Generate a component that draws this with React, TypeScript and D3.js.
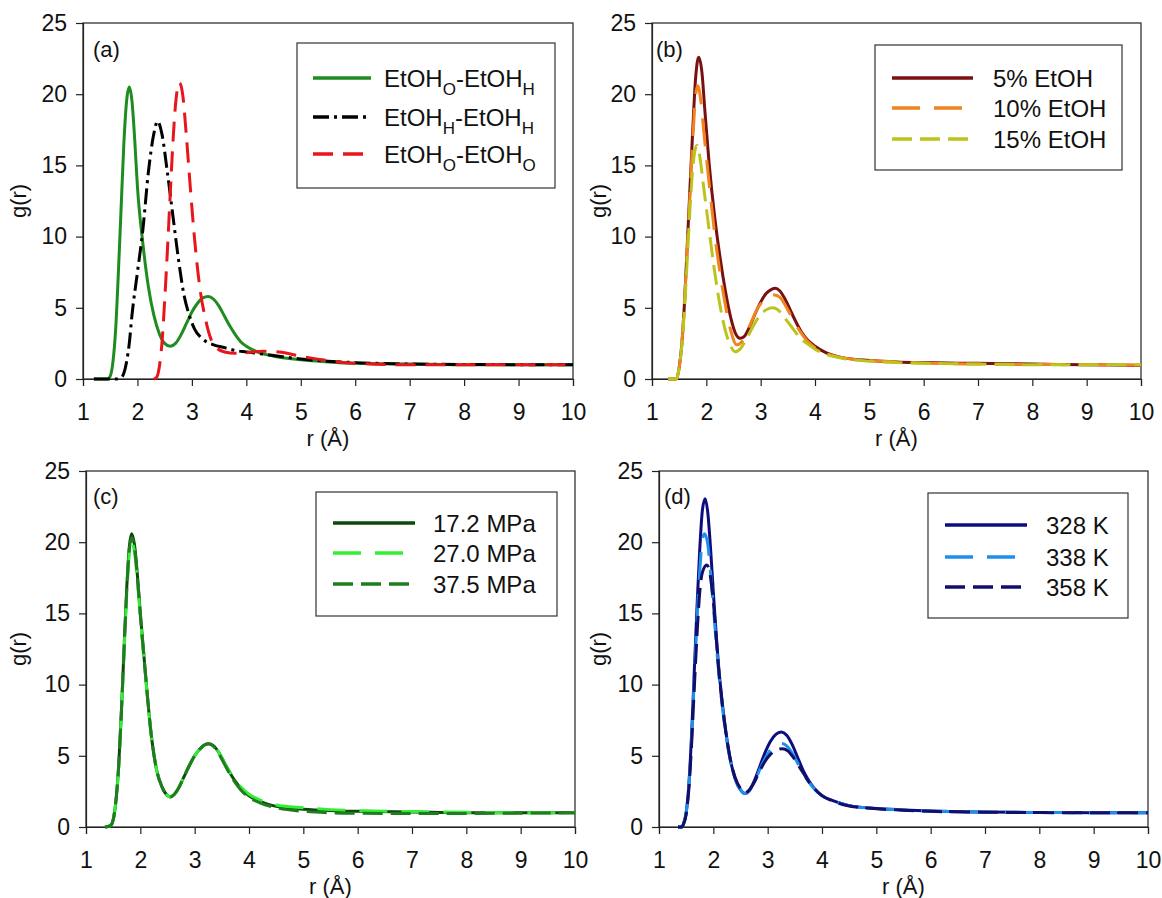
import React, { useEffect, useRef } from 'react';
import * as d3 from 'd3';

const X_TICKS = [1, 2, 3, 4, 5, 6, 7, 8, 9, 10];
const Y_TICKS = [0, 5, 10, 15, 20, 25];

// ---- Panel (a) ----
const A_GREEN_R = [1.2, 1.45, 1.5, 1.55, 1.6, 1.65, 1.7, 1.75, 1.8, 1.85, 1.9, 1.95, 2.0, 2.1, 2.2, 2.3, 2.4, 2.5, 2.6, 2.7, 2.8, 2.9, 3.0, 3.1, 3.2, 3.3, 3.4, 3.5, 3.6, 3.7, 3.8, 3.9, 4.0, 4.2, 4.5, 5.0, 5.5, 6.0, 7.0, 8.0, 10.0];
const A_GREEN_G = [0, 0, 0.2, 1.2, 3.5, 7.5, 12, 16.5, 19.5, 20.5, 19.5, 16.8, 13.5, 9.5, 6.5, 4.5, 3.2, 2.5, 2.3, 2.5, 3.1, 3.9, 4.7, 5.3, 5.7, 5.8, 5.6, 5.1, 4.4, 3.7, 3.1, 2.6, 2.3, 1.9, 1.6, 1.35, 1.2, 1.1, 1.05, 1.0, 1.0];
const A_BLACK_R = [1.2, 1.6, 1.7, 1.75, 1.8, 1.85, 1.9, 2.0, 2.1, 2.2, 2.3, 2.37, 2.45, 2.55, 2.65, 2.75, 2.85, 2.95, 3.05, 3.2, 3.4, 3.6, 3.8, 4.0, 4.5, 5.0, 5.5, 6.0, 7.0, 8.0, 10.0];
const A_BLACK_G = [0, 0, 0.1, 0.4, 1.2, 2.5, 4.5, 7.5, 10.5, 14.5, 17.2, 18.1, 17.2, 14.5, 11.5, 8.5, 6.0, 4.5, 3.5, 2.8, 2.4, 2.2, 2.0, 1.9, 1.65, 1.4, 1.25, 1.15, 1.05, 1.02, 1.0];
const A_RED_R = [2.3, 2.35, 2.4, 2.45, 2.5, 2.55, 2.6, 2.65, 2.7, 2.77, 2.83, 2.9, 2.97, 3.05, 3.15, 3.25, 3.35, 3.45, 3.6, 3.8, 4.0, 4.3, 4.6, 5.0, 5.5, 6.0, 7.0, 10.0];
const A_RED_G = [0, 0.1, 0.8, 2.5, 5.5, 9.0, 12.8, 16.5, 19.3, 20.8, 20.0, 17.0, 13.5, 9.8, 6.3, 4.2, 2.8, 2.2, 1.9, 1.8, 1.85, 1.95, 1.9, 1.6, 1.3, 1.1, 1.0, 1.0];

// ---- Panel (b) ----
const B_5_R = [1.3, 1.45, 1.5, 1.55, 1.6, 1.65, 1.7, 1.75, 1.8, 1.86, 1.92, 1.97, 2.05, 2.15, 2.25, 2.35, 2.45, 2.55, 2.62, 2.7, 2.8, 2.9, 3.0, 3.1, 3.2, 3.27, 3.35, 3.45, 3.55, 3.65, 3.75, 3.85, 4.0, 4.2, 4.5, 5.0, 5.5, 6.0, 7.0, 8.0, 9.0, 10.0];
const B_5_G = [0, 0, 0.8, 2.5, 5.5, 9.5, 13.5, 17.5, 21.0, 22.6, 21.5, 19.0, 15.2, 11.5, 8.6, 6.2, 4.3, 3.1, 2.86, 3.0, 3.7, 4.6, 5.4, 6.0, 6.3, 6.37, 6.2, 5.6, 4.8, 4.0, 3.3, 2.8, 2.3, 1.85, 1.5, 1.3, 1.2, 1.15, 1.1, 1.05, 1.0, 0.95];
const B_10_R = [1.3, 1.45, 1.5, 1.55, 1.6, 1.65, 1.7, 1.75, 1.8, 1.84, 1.9, 1.95, 2.05, 2.15, 2.25, 2.35, 2.45, 2.56, 2.65, 2.75, 2.85, 2.95, 3.05, 3.15, 3.25, 3.35, 3.45, 3.55, 3.65, 3.75, 3.85, 4.0, 4.2, 4.5, 5.0, 5.5, 6.0, 7.0, 8.0, 9.0, 10.0];
const B_10_G = [0, 0, 0.8, 2.5, 5.5, 9.3, 13.0, 16.8, 19.8, 20.6, 19.5, 17.5, 13.8, 10.3, 7.5, 5.2, 3.4, 2.4, 2.6, 3.3, 4.2, 5.0, 5.5, 5.8, 5.9, 5.75, 5.2, 4.5, 3.8, 3.2, 2.7, 2.2, 1.8, 1.5, 1.3, 1.2, 1.12, 1.05, 1.02, 1.0, 0.98];
const B_15_R = [1.3, 1.45, 1.5, 1.55, 1.6, 1.65, 1.7, 1.75, 1.8, 1.83, 1.88, 1.95, 2.05, 2.15, 2.25, 2.35, 2.45, 2.53, 2.62, 2.72, 2.82, 2.92, 3.02, 3.12, 3.22, 3.32, 3.42, 3.52, 3.62, 3.72, 3.85, 4.0, 4.2, 4.5, 5.0, 5.5, 6.0, 7.0, 8.0, 9.0, 10.0];
const B_15_G = [0, 0, 0.8, 2.4, 5.0, 8.5, 12.0, 14.8, 16.2, 16.4, 15.6, 13.5, 10.5, 7.6, 5.2, 3.4, 2.3, 1.92, 2.1, 2.7, 3.4, 4.1, 4.6, 4.9, 5.0, 4.85, 4.4, 3.9, 3.4, 2.9, 2.5, 2.1, 1.75, 1.45, 1.25, 1.15, 1.1, 1.05, 1.0, 1.0, 1.0];

// ---- Panel (c) ----
const C_172_R = [1.35, 1.45, 1.5, 1.55, 1.6, 1.65, 1.7, 1.75, 1.8, 1.84, 1.9, 1.95, 2.0, 2.1, 2.2, 2.3, 2.4, 2.5, 2.55, 2.6, 2.7, 2.8, 2.9, 3.0, 3.1, 3.2, 3.25, 3.35, 3.45, 3.55, 3.65, 3.75, 3.85, 4.0, 4.2, 4.5, 5.0, 5.5, 6.0, 7.0, 8.0, 9.0, 10.0];
const C_172_G = [0, 0.1, 0.5, 1.8, 4.2, 8.0, 12.5, 16.8, 19.8, 20.6, 19.6, 17.5, 15.0, 10.5, 6.5, 4.0, 2.8, 2.2, 2.1, 2.2, 2.7, 3.5, 4.3, 5.0, 5.5, 5.8, 5.85, 5.7, 5.2, 4.5, 3.8, 3.2, 2.7, 2.2, 1.8, 1.45, 1.25, 1.15, 1.1, 1.05, 1.0, 1.0, 1.0];
const C_270_R = [1.35, 1.45, 1.5, 1.55, 1.6, 1.65, 1.7, 1.75, 1.8, 1.84, 1.9, 1.95, 2.0, 2.1, 2.2, 2.3, 2.4, 2.5, 2.55, 2.6, 2.7, 2.8, 2.9, 3.0, 3.1, 3.2, 3.25, 3.35, 3.45, 3.55, 3.65, 3.75, 3.85, 4.0, 4.2, 4.5, 5.0, 5.5, 6.0, 7.0, 8.0, 9.0, 10.0];
const C_270_G = [0, 0.1, 0.5, 1.8, 4.1, 7.8, 12.2, 16.4, 19.3, 20.0, 19.1, 17.1, 14.7, 10.4, 6.5, 4.0, 2.8, 2.2, 2.1, 2.2, 2.7, 3.5, 4.3, 5.0, 5.5, 5.8, 5.85, 5.7, 5.2, 4.5, 3.85, 3.25, 2.8, 2.3, 1.9, 1.55, 1.35, 1.22, 1.15, 1.08, 1.03, 1.0, 1.0];
const C_375_R = [1.35, 1.45, 1.5, 1.55, 1.6, 1.65, 1.7, 1.75, 1.8, 1.84, 1.9, 1.95, 2.0, 2.1, 2.2, 2.3, 2.4, 2.5, 2.55, 2.6, 2.7, 2.8, 2.9, 3.0, 3.1, 3.2, 3.25, 3.35, 3.45, 3.55, 3.65, 3.75, 3.85, 4.0, 4.2, 4.5, 5.0, 5.5, 6.0, 7.0, 8.0, 9.0, 10.0];
const C_375_G = [0, 0.1, 0.5, 1.8, 4.2, 8.0, 12.4, 16.6, 19.6, 20.3, 19.4, 17.3, 14.9, 10.5, 6.5, 4.0, 2.8, 2.2, 2.1, 2.2, 2.7, 3.5, 4.3, 5.0, 5.5, 5.8, 5.85, 5.65, 5.1, 4.4, 3.7, 3.1, 2.6, 2.1, 1.7, 1.35, 1.1, 1.0, 0.97, 0.95, 0.95, 0.97, 1.0];

// ---- Panel (d) ----
const D_328_R = [1.35, 1.42, 1.45, 1.5, 1.55, 1.6, 1.65, 1.7, 1.75, 1.8, 1.85, 1.9, 1.95, 2.0, 2.1, 2.2, 2.3, 2.4, 2.5, 2.58, 2.65, 2.75, 2.85, 2.95, 3.05, 3.15, 3.25, 3.35, 3.45, 3.55, 3.65, 3.75, 3.85, 4.0, 4.2, 4.5, 5.0, 5.5, 6.0, 7.0, 8.0, 9.0, 10.0];
const D_328_G = [0, 0, 0.2, 1.0, 3.0, 6.5, 11.0, 15.5, 19.5, 22.3, 23.06, 22.0, 19.5, 16.5, 11.2, 7.6, 5.0, 3.4, 2.6, 2.35, 2.5, 3.2, 4.2, 5.2, 6.0, 6.5, 6.67, 6.45, 5.8, 4.9, 4.0, 3.3, 2.75, 2.2, 1.85, 1.5, 1.3, 1.2, 1.12, 1.05, 1.02, 1.0, 1.0];
const D_338_R = [1.35, 1.42, 1.45, 1.5, 1.55, 1.6, 1.65, 1.7, 1.75, 1.8, 1.84, 1.9, 1.95, 2.0, 2.1, 2.2, 2.3, 2.4, 2.5, 2.58, 2.65, 2.75, 2.85, 2.95, 3.05, 3.15, 3.25, 3.35, 3.45, 3.55, 3.65, 3.75, 3.85, 4.0, 4.2, 4.5, 5.0, 5.5, 6.0, 7.0, 8.0, 9.0, 10.0];
const D_338_G = [0, 0, 0.2, 1.0, 3.0, 6.2, 10.5, 14.5, 18.0, 20.2, 20.6, 19.8, 17.8, 15.5, 10.8, 7.4, 4.9, 3.4, 2.6, 2.35, 2.5, 3.1, 4.0, 4.8, 5.4, 5.75, 5.86, 5.7, 5.2, 4.5, 3.8, 3.2, 2.7, 2.2, 1.85, 1.5, 1.3, 1.2, 1.12, 1.05, 1.02, 1.0, 1.0];
const D_358_R = [1.35, 1.42, 1.45, 1.5, 1.55, 1.6, 1.65, 1.7, 1.75, 1.8, 1.88, 1.95, 2.0, 2.1, 2.2, 2.3, 2.4, 2.5, 2.58, 2.65, 2.75, 2.85, 2.95, 3.05, 3.15, 3.27, 3.37, 3.47, 3.57, 3.67, 3.77, 3.87, 4.0, 4.2, 4.5, 5.0, 5.5, 6.0, 7.0, 8.0, 9.0, 10.0];
const D_358_G = [0, 0, 0.2, 0.9, 2.7, 5.8, 9.8, 13.5, 16.5, 17.9, 18.4, 17.5, 15.8, 11.0, 7.5, 5.0, 3.5, 2.7, 2.4, 2.55, 3.1, 3.9, 4.6, 5.1, 5.4, 5.5, 5.35, 4.9, 4.3, 3.7, 3.1, 2.65, 2.2, 1.82, 1.48, 1.28, 1.18, 1.1, 1.04, 1.01, 1.0, 1.0];

const DASH_DOT = '16 5 3 5';
const DASH_RED = '20 10';
const DASH_LONG = '28 14';
const DASH_MED = '20 8';

const PANELS = [
  {
    label: '(a)', x0: 83, x1: 573, y0: 23, y1: 379, labelX: 93, labelY: 57, gx: 18,
    legend: { x0: 297, y0: 43, x1: 555, y1: 188, lx0: 313, lx1: 371, rows: [78, 117, 154], tx: 384 },
    series: [
      { r: A_GREEN_R, g: A_GREEN_G, color: '#1e8c1e', dash: null, name: [['EtOH', false], ['O', true], ['-EtOH', false], ['H', true]] },
      { r: A_BLACK_R, g: A_BLACK_G, color: '#000000', dash: DASH_DOT, name: [['EtOH', false], ['H', true], ['-EtOH', false], ['H', true]] },
      { r: A_RED_R, g: A_RED_G, color: '#e8161b', dash: DASH_RED, name: [['EtOH', false], ['O', true], ['-EtOH', false], ['O', true]] },
    ],
  },
  {
    label: '(b)', x0: 652, x1: 1141, y0: 23, y1: 379, labelX: 656, labelY: 57, gx: 598,
    legend: { x0: 875, y0: 45, x1: 1122, y1: 170, lx0: 892, lx1: 973, rows: [78, 108, 139], tx: 993 },
    series: [
      { r: B_5_R, g: B_5_G, color: '#7a1010', dash: null, name: [['5% EtOH', false]] },
      { r: B_10_R, g: B_10_G, color: '#f0841e', dash: DASH_LONG, name: [['10% EtOH', false]] },
      { r: B_15_R, g: B_15_G, color: '#bcc41c', dash: DASH_MED, name: [['15% EtOH', false]] },
    ],
  },
  {
    label: '(c)', x0: 86, x1: 575, y0: 471, y1: 827, labelX: 93, labelY: 504, gx: 18,
    legend: { x0: 316, y0: 492, x1: 557, y1: 616, lx0: 333, lx1: 415, rows: [523, 553, 584], tx: 433 },
    series: [
      { r: C_172_R, g: C_172_G, color: '#0c4a0c', dash: null, name: [['17.2 MPa', false]] },
      { r: C_270_R, g: C_270_G, color: '#33ee33', dash: DASH_LONG, name: [['27.0 MPa', false]] },
      { r: C_375_R, g: C_375_G, color: '#1e7d1e', dash: DASH_MED, name: [['37.5 MPa', false]] },
    ],
  },
  {
    label: '(d)', x0: 659, x1: 1148, y0: 471, y1: 827, labelX: 664, labelY: 504, gx: 598,
    legend: { x0: 928, y0: 493, x1: 1128, y1: 618, lx0: 945, lx1: 1027, rows: [525, 557, 587], tx: 1046 },
    series: [
      { r: D_328_R, g: D_328_G, color: '#0d0d80', dash: null, name: [['328 K', false]] },
      { r: D_338_R, g: D_338_G, color: '#1e8fee', dash: DASH_LONG, name: [['338 K', false]] },
      { r: D_358_R, g: D_358_G, color: '#10106a', dash: DASH_MED, name: [['358 K', false]] },
    ],
  },
];

const FONT = "'Liberation Sans', Arial, sans-serif";

export default function App() {
  const ref = useRef<SVGSVGElement>(null);

  useEffect(() => {
    const svg = d3.select(ref.current);
    svg.selectAll('*').remove();
    svg.append('rect').attr('width', 1162).attr('height', 898).attr('fill', '#fff');

    PANELS.forEach((p) => {
      const x = d3.scaleLinear().domain([1, 10]).range([p.x0, p.x1]);
      const y = d3.scaleLinear().domain([0, 25]).range([p.y1, p.y0]);
      const g = svg.append('g');

      // frame
      g.append('rect')
        .attr('x', p.x0).attr('y', p.y0)
        .attr('width', p.x1 - p.x0).attr('height', p.y1 - p.y0)
        .attr('fill', 'none').attr('stroke', '#222').attr('stroke-width', 1.2);

      const xa = g.append('g')
        .attr('transform', `translate(0,${p.y1})`)
        .call(d3.axisBottom(x).tickValues(X_TICKS).tickSize(7).tickPadding(18).tickFormat(d3.format('d')));
      const ya = g.append('g')
        .attr('transform', `translate(${p.x0},0)`)
        .call(d3.axisLeft(y).tickValues(Y_TICKS).tickSize(7).tickPadding(9).tickFormat(d3.format('d')));
      [xa, ya].forEach((a) => {
        a.select('.domain').attr('stroke', '#222').attr('stroke-width', 1.2);
        a.selectAll('.tick line').attr('stroke', '#222').attr('stroke-width', 1.2);
        a.selectAll('.tick text').attr('font-family', FONT).attr('font-size', 23).attr('fill', '#111');
      });

      // axis titles
      g.append('text')
        .attr('x', (p.x0 + p.x1) / 2).attr('y', p.y1 + 67)
        .attr('text-anchor', 'middle').attr('font-family', FONT).attr('font-size', 22).attr('fill', '#111')
        .text('r (Å)');
      g.append('text')
        .attr('transform', `translate(${p.gx + 8},${(p.y0 + p.y1) / 2}) rotate(-90)`)
        .attr('text-anchor', 'middle').attr('font-family', FONT).attr('font-size', 22).attr('fill', '#111')
        .text('g(r)');

      // panel label
      g.append('text')
        .attr('x', p.labelX).attr('y', p.labelY)
        .attr('font-family', FONT).attr('font-size', 22).attr('fill', '#111')
        .text(p.label);

      // curves
      const clipId = `clip-${p.label.replace(/[()]/g, '')}`;
      svg.append('clipPath').attr('id', clipId)
        .append('rect').attr('x', p.x0).attr('y', p.y0 - 2).attr('width', p.x1 - p.x0).attr('height', p.y1 - p.y0 + 4);
      const line = d3.line<[number, number]>()
        .x((d) => x(d[0])).y((d) => y(d[1]))
        .curve(d3.curveMonotoneX);
      const cg = g.append('g').attr('clip-path', `url(#${clipId})`);
      p.series.forEach((s) => {
        const pts: [number, number][] = s.r.map((r, i) => [r, s.g[i]]);
        cg.append('path')
          .datum(pts)
          .attr('d', line)
          .attr('fill', 'none')
          .attr('stroke', s.color)
          .attr('stroke-width', 3)
          .attr('stroke-linejoin', 'round')
          .attr('stroke-dasharray', s.dash ?? null);
      });

      // legend
      const L = p.legend;
      g.append('rect')
        .attr('x', L.x0).attr('y', L.y0).attr('width', L.x1 - L.x0).attr('height', L.y1 - L.y0)
        .attr('fill', '#fff').attr('stroke', '#333').attr('stroke-width', 1.2);
      p.series.forEach((s, i) => {
        const ry = L.rows[i];
        g.append('line')
          .attr('x1', L.lx0).attr('x2', L.lx1).attr('y1', ry).attr('y2', ry)
          .attr('stroke', s.color).attr('stroke-width', 3.5)
          .attr('stroke-dasharray', s.dash ?? null);
        const t = g.append('text')
          .attr('x', L.tx).attr('y', ry + 8.5)
          .attr('font-family', FONT).attr('font-size', 24).attr('fill', '#111');
        let shifted = false;
        s.name.forEach(([txt, sub]) => {
          const ts = t.append('tspan').text(txt as string);
          if (sub) {
            ts.attr('font-size', 17).attr('dy', shifted ? 0 : 8);
            shifted = true;
          } else if (shifted) {
            ts.attr('dy', -8);
            shifted = false;
          }
        });
      });
    });
  }, []);

  return (
    <svg
      ref={ref}
      width={1162}
      height={898}
      style={{ position: 'absolute', left: 0, top: 0, display: 'block' }}
    />
  );
}
